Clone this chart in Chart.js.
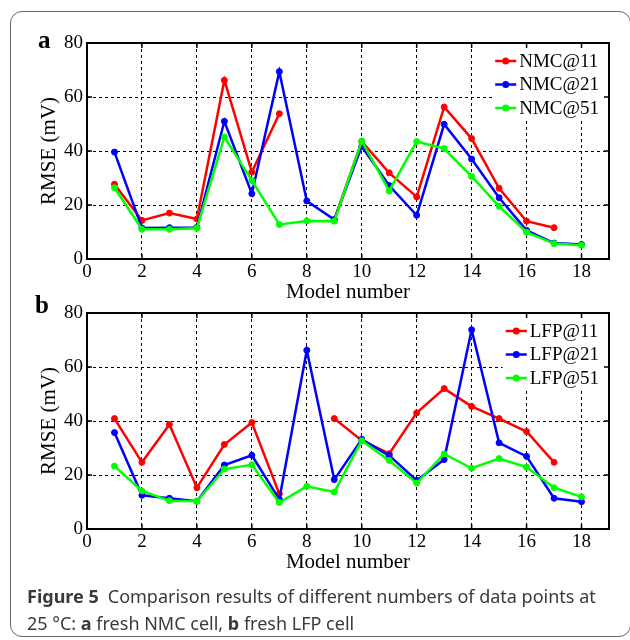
<!DOCTYPE html>
<html>
<head>
<meta charset="utf-8">
<script src="https://cdn.jsdelivr.net/npm/chart.js@4.4.1/dist/chart.umd.min.js"></script>
<style>
  html, body { margin: 0; padding: 0; background: #fff; }
  #page { position: relative; width: 630px; height: 640px; overflow: hidden; }
  #frame { position: absolute; left: 10px; top: 11px; width: 621px; height: 626px; box-sizing: border-box; border: 1px solid #666; border-radius: 12px; }
  canvas { position: absolute; left: 0; }
  #chartA { top: 0; }
  #chartB { top: 270px; }
  #caption { position: absolute; left: 27px; top: 583px; font-family: "Noto Sans", sans-serif; font-size: 18px; line-height: 27px; color: #3a3a3a; white-space: nowrap; }
</style>
</head>
<body>
<div id="page">
  <div id="frame"></div>
  <canvas id="chartA" width="630" height="305"></canvas>
  <canvas id="chartB" width="630" height="305"></canvas>
  <div id="caption"><b>Figure 5</b>&ensp;Comparison results of different numbers of data points at<br>25 °C: <b>a</b> fresh NMC cell, <b>b</b> fresh LFP cell</div>
</div>
<script>
// model numbers on the x axis
const models = [1, 2, 3, 4, 5, 6, 7, 8, 9, 10, 11, 12, 13, 14, 15, 16, 17, 18];
const xTicks = [0, 2, 4, 6, 8, 10, 12, 14, 16, 18];
const yTicks = [0, 20, 40, 60, 80];

// panel a - fresh NMC cell, RMSE (mV)
const nmcLabels = ['NMC@11', 'NMC@21', 'NMC@51'];
const nmc11 = [27.7, 14.3, 17.0, 14.8, 66.2, 32.2, 53.8, null, 14.5, 43.5, 31.9, 23.0, 56.3, 44.6, 26.2, 14.0, 11.6, null];
const nmc21 = [39.6, 11.5, 11.6, 11.7, 51.0, 24.2, 69.4, 21.5, 14.6, 41.7, 27.2, 16.2, 49.9, 37.0, 22.7, 10.6, 5.9, 5.4];
const nmc51 = [26.4, 11.0, 11.0, 11.4, 45.2, 29.1, 12.8, 14.1, 14.0, 43.7, 25.2, 43.5, 40.9, 30.6, 19.5, 9.9, 5.7, 5.1];

// panel b - fresh LFP cell, RMSE (mV)
const lfpLabels = ['LFP@11', 'LFP@21', 'LFP@51'];
const lfp11 = [40.9, 24.7, 38.7, 15.3, 31.3, 39.4, 13.0, null, 40.9, 32.8, 27.9, 43.0, 52.0, 45.4, 40.9, 36.1, 24.7, null];
const lfp21 = [35.7, 12.5, 11.4, 10.3, 23.7, 27.3, 11.0, 66.2, 18.3, 33.2, 27.2, 18.0, 25.7, 73.8, 31.9, 26.9, 11.4, 10.1];
const lfp51 = [23.3, 14.1, 10.5, 10.3, 22.2, 23.8, 9.8, 15.8, 13.7, 32.7, 25.4, 17.0, 27.8, 22.5, 26.1, 22.9, 15.3, 11.9];

const seriesColors = ['#ff0000', '#0000ff', '#00ff00'];
const serif = 'Liberation Serif';

// frame, inside ticks, legend box and panel letter (matlab look)
const panelDecor = {
  id: 'panelDecor',
  afterDatasetsDraw(chart, args, opts) {
    const { ctx, chartArea: a, scales: { x, y } } = chart;
    ctx.save();

    // legend in the top right corner
    ctx.font = '19px "' + serif + '"';
    const textW = Math.max(...chart.data.datasets.map(d => ctx.measureText(d.label).width));
    const right = a.right - 1;
    const textX = right - 9 - textW;
    const lineX0 = textX - 24, lineX1 = textX - 3;
    const boxLeft = lineX0 - 3;
    ctx.fillStyle = '#fff';
    ctx.fillRect(boxLeft, a.top + 1, right - boxLeft, 77);
    chart.data.datasets.forEach((ds, i) => {
      const cy = a.top + 18 + i * 23.5;
      ctx.strokeStyle = ds.borderColor;
      ctx.lineWidth = 2.5;
      ctx.beginPath();
      ctx.moveTo(lineX0, cy);
      ctx.lineTo(lineX1, cy);
      ctx.stroke();
      ctx.fillStyle = ds.borderColor;
      ctx.beginPath();
      ctx.arc((lineX0 + lineX1) / 2, cy, 3.5, 0, Math.PI * 2);
      ctx.fill();
      ctx.fillStyle = '#000';
      ctx.textBaseline = 'middle';
      ctx.fillText(ds.label, textX, cy + 1);
    });

    // tick marks pointing inward
    ctx.strokeStyle = '#000';
    ctx.lineWidth = 1.5;
    ctx.beginPath();
    xTicks.forEach(v => {
      const px = x.getPixelForValue(v);
      ctx.moveTo(px, a.bottom); ctx.lineTo(px, a.bottom - 5);
      ctx.moveTo(px, a.top); ctx.lineTo(px, a.top + 5);
    });
    yTicks.forEach(v => {
      const py = y.getPixelForValue(v);
      ctx.moveTo(a.left, py); ctx.lineTo(a.left + 5, py);
      ctx.moveTo(a.right, py); ctx.lineTo(a.right - 5, py);
    });
    ctx.stroke();

    // axes box
    ctx.lineWidth = 2;
    ctx.strokeRect(a.left, a.top, a.right - a.left, a.bottom - a.top);

    // panel letter
    ctx.font = 'bold 25px "' + serif + '"';
    ctx.textBaseline = 'alphabetic';
    ctx.fillStyle = '#000';
    ctx.fillText(opts.letter, opts.letterX, opts.letterY);
    ctx.restore();
  }
};

function makePanel(canvasId, labels, series, letter, letterX, letterY) {
  const ctx = document.getElementById(canvasId).getContext('2d');
  const datasets = series.map((vals, i) => ({
    label: labels[i],
    data: models.map((m, j) => ({ x: m, y: vals[j] })),
    borderColor: seriesColors[i],
    backgroundColor: seriesColors[i],
    borderWidth: 2.5,
    pointRadius: 3,
    pointBorderWidth: 1,
    tension: 0,
    spanGaps: false,
    order: 3 - i,
  }));

  return new Chart(ctx, {
    type: 'line',
    data: { datasets: datasets },
    options: {
      responsive: false,
      animation: false,
      layout: { padding: { left: 0, right: 21, top: 43, bottom: 0 } },
      plugins: {
        legend: { display: false },
        tooltip: { enabled: false },
        panelDecor: { letter: letter, letterX: letterX, letterY: letterY },
      },
      scales: {
        x: {
          type: 'linear',
          min: 0,
          max: 19,
          afterBuildTicks: s => { s.ticks = xTicks.map(v => ({ value: v })); },
          afterFit: s => { s.height = 46; },
          grid: { color: '#000', lineWidth: 1, drawTicks: false },
          border: { display: false, dash: [3, 3] },
          ticks: { color: '#000', font: { family: serif, size: 19 }, padding: 2, maxRotation: 0, autoSkip: false },
          title: { display: true, text: 'Model number', color: '#000', font: { family: serif, size: 21 }, padding: { top: 0, bottom: 0 } },
        },
        y: {
          min: 0,
          max: 80,
          afterBuildTicks: s => { s.ticks = yTicks.map(v => ({ value: v })); },
          afterFit: s => { s.width = 87; },
          grid: { color: '#000', lineWidth: 1, drawTicks: false },
          border: { display: false, dash: [3, 3] },
          ticks: { color: '#000', font: { family: serif, size: 19 }, padding: 4 },
          title: { display: true, text: 'RMSE (mV)', color: '#000', font: { family: serif, size: 21 }, padding: { top: 37, bottom: 0 } },
        },
      },
    },
    plugins: [panelDecor],
  });
}

makePanel('chartA', nmcLabels, [nmc11, nmc21, nmc51], 'a', 38, 48);
makePanel('chartB', lfpLabels, [lfp11, lfp21, lfp51], 'b', 35, 43);
</script>
</body>
</html>
